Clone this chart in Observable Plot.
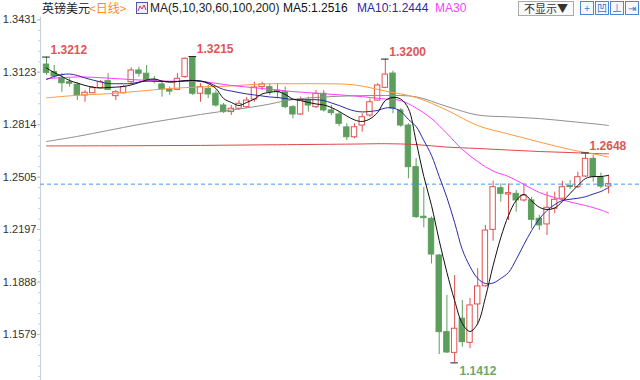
<!DOCTYPE html>
<html>
<head>
<meta charset="utf-8">
<script src="https://cdn.jsdelivr.net/npm/d3@7"></script>
<script src="https://cdn.jsdelivr.net/npm/@observablehq/plot@0.6"></script>
<style>
  body { margin: 0; background: #fff; font-family: "Liberation Sans", Arial, sans-serif; }
  #wrap { position: relative; width: 640px; height: 380px; overflow: hidden; background: #fff; }
  #hdr { position: absolute; left: 0; top: 0; width: 640px; height: 16px; font-size: 12px; line-height: 16px; white-space: nowrap; }
  #hdr span.t { position: absolute; top: 0; }
  .cjk { font-family: "Noto Sans CJK SC", "Liberation Sans", sans-serif; }
  .btn { position: absolute; top: 1px; width: 12px; height: 12px; border: 1px solid #4a86d6; color: #3a76c6; font-size: 10px; line-height: 12px; text-align: center; background: #f4f8ff; }
  .sel { position: absolute; left: 518px; top: 1px; width: 54px; height: 13px; border: 1px solid #aaa; font-size: 11px; line-height: 13px; color: #333; text-align: center; background: #fafafa; }
</style>
</head>
<body>
<div id="wrap">
  <div id="chart"></div>
  <div id="hdr"></div>
</div>
<script>
// ---- data (GBP/USD daily candles) ----
const open = [1.3168,1.3123,1.3088,1.3064,1.3049,1.2986,1.2999,1.3029,1.3070,1.2982,
  1.2999,1.3064,1.3133,1.3114,1.3077,1.3051,1.3021,1.3019,1.3094,1.3208,
  1.2996,1.3025,1.2996,1.2927,1.2888,1.2908,1.2917,1.2962,1.3035,1.3035,
  1.3015,1.3005,1.2917,1.2874,1.2956,1.2917,1.2996,1.2898,1.2874,1.2798,
  1.2740,1.2809,1.2868,1.2956,1.3031,1.3115,1.2898,1.2809,1.2564,1.2272,
  1.2260,1.2044,1.1593,1.1471,1.1672,1.1530,1.1756,1.1863,1.2195,1.2440,
  1.2403,1.2407,1.2368,1.2368,1.2260,1.2227,1.2319,1.2378,1.2453,1.2446,
  1.2509,1.2613,1.2505,1.2450];
const close = [1.3119,1.3098,1.3058,1.3055,1.2986,1.3002,1.3029,1.3064,1.3019,1.3005,
  1.3035,1.3133,1.3114,1.3078,1.3071,1.3021,1.3009,1.3084,1.3202,1.2996,
  1.3035,1.2992,1.2927,1.2888,1.2908,1.2937,1.2956,1.3033,1.3051,1.3005,
  1.3005,1.2917,1.2874,1.2961,1.2927,1.2996,1.2898,1.2882,1.2819,1.2740,
  1.2799,1.2858,1.2946,1.3045,1.3109,1.2909,1.2809,1.2564,1.2270,1.2264,
  1.2050,1.1593,1.1473,1.1613,1.1534,1.1750,1.1862,1.2191,1.2446,1.2407,
  1.2411,1.2368,1.2397,1.2254,1.2221,1.2325,1.2372,1.2446,1.2447,1.2505,
  1.2613,1.2505,1.2450,1.2464];
const high = [1.3212,1.3162,1.3115,1.3086,1.3062,1.3015,1.3039,1.3074,1.3114,1.3015,
  1.3045,1.3149,1.3152,1.3162,1.3098,1.3064,1.3035,1.3115,1.3207,1.3215,
  1.3055,1.3045,1.3015,1.2939,1.2927,1.2956,1.2974,1.3064,1.3064,1.3055,
  1.3055,1.3035,1.2927,1.2976,1.2976,1.3015,1.3015,1.2927,1.2888,1.2819,
  1.2819,1.2878,1.2966,1.3055,1.3200,1.3129,1.2909,1.2819,1.2615,1.2446,
  1.2270,1.2050,1.1809,1.1926,1.1779,1.1791,1.1966,1.2221,1.2481,1.2466,
  1.2466,1.2427,1.2466,1.2387,1.2280,1.2417,1.2417,1.2481,1.2486,1.2534,
  1.2648,1.2633,1.2529,1.2515];
const low = [1.3104,1.3086,1.3005,1.3035,1.2956,1.2946,1.2996,1.3025,1.3015,1.2956,
  1.2996,1.3055,1.3094,1.3064,1.3055,1.2976,1.2986,1.3015,1.3086,1.2986,
  1.2946,1.2968,1.2917,1.2880,1.2868,1.2898,1.2909,1.2946,1.3015,1.2986,
  1.2966,1.2908,1.2849,1.2868,1.2888,1.2908,1.2888,1.2868,1.2803,1.2721,
  1.2731,1.2770,1.2858,1.2952,1.3025,1.2878,1.2799,1.2496,1.2262,1.2207,
  1.1995,1.1461,1.1467,1.1412,1.1504,1.1495,1.1632,1.1858,1.2128,1.2358,
  1.2250,1.2299,1.2358,1.2201,1.2191,1.2162,1.2290,1.2368,1.2433,1.2437,
  1.2503,1.2476,1.2437,1.2407];

const ma5 = [1.3148,1.3121,1.3098,1.3074,1.3059,1.3045,1.3035,1.3030,1.3033,1.3035,
  1.3039,1.3048,1.3062,1.3077,1.3083,1.3071,1.3064,1.3068,1.3074,1.3074,
  1.3071,1.3056,1.3027,1.2968,1.2945,1.2927,1.2945,1.2965,1.2995,1.3004,
  1.3009,1.2992,1.2965,1.2956,1.2945,1.2936,1.2930,1.2915,1.2892,1.2865,
  1.2842,1.2833,1.2848,1.2886,1.2956,1.2974,1.2965,1.2909,1.2715,1.2509,
  1.2338,1.2132,1.1944,1.1779,1.1644,1.1597,1.1644,1.1797,1.1985,1.2150,
  1.2280,1.2368,1.2403,1.2365,1.2328,1.2315,1.2324,1.2362,1.2409,1.2456,
  1.2497,1.2509,1.2509,1.2516];
const ma10 = [1.3080,1.3098,1.3109,1.3112,1.3104,1.3089,1.3077,1.3066,1.3056,1.3055,
  1.3055,1.3056,1.3065,1.3070,1.3069,1.3068,1.3068,1.3068,1.3071,1.3074,
  1.3071,1.3062,1.3041,1.3021,1.3012,1.3003,1.2995,1.2989,1.2983,1.2977,
  1.2974,1.2968,1.2962,1.2961,1.2961,1.2961,1.2956,1.2942,1.2927,1.2909,
  1.2895,1.2889,1.2892,1.2898,1.2912,1.2912,1.2892,1.2845,1.2803,1.2721,
  1.2633,1.2509,1.2385,1.2238,1.2079,1.1979,1.1909,1.1879,1.1882,1.1909,
  1.1944,1.2021,1.2109,1.2191,1.2259,1.2309,1.2344,1.2368,1.2375,1.2381,
  1.2390,1.2406,1.2421,1.2444];

const ma30Idx = [0,4,8,12,16,20,24,28,32,36,40,44,46,48,50,52,54,56,58,60,62,64,66,68,70,72,73];
const ma30 = [1.3084,1.3095,1.3088,1.3077,1.3070,1.3068,1.3045,1.3027,1.3009,1.2996,1.2983,1.2965,1.2956,
  1.2912,1.2850,1.2762,1.2668,1.2597,1.2541,1.2509,1.2462,1.2415,1.2385,1.2359,1.2338,1.2312,1.2294];
const slowIdx = [0,4,8,12,16,20,24,28,32,36,40,44,48,52,56,60,64,68,72,73];
const ma60 = [1.2972,1.2987,1.2996,1.3011,1.3027,1.3036,1.3042,1.3054,1.3055,1.3055,
  1.3048,1.3012,1.2974,1.2899,1.2809,1.2759,1.2712,1.2668,1.2633,1.2623];
const ma100 = [1.2715,1.2745,1.2780,1.2815,1.2845,1.2874,1.2900,1.2927,1.2962,1.2977,
  1.2984,1.2986,1.2978,1.2921,1.2871,1.2860,1.2850,1.2833,1.2815,1.2809];
const ma200Idx = [0,10,20,30,40,44,48,52,56,60,64,68,72,73];
const ma200 = [1.2689,1.2690,1.2692,1.2696,1.2700,1.2702,1.2697,1.2682,1.2674,1.2665,1.2656,1.2650,1.2643,1.2643];

const yTicks = [1.3431,1.3123,1.2814,1.2505,1.2197,1.1888,1.1579];
const hiMarks = [0,19,44,70];   // candles whose high is labelled
const loMarks = [53];           // candle whose low is labelled

// ---- styles ----
const RED = "#e05050", GREEN = "#5c9e5c";
const half = 0.35;
const xDomain = [-0.78, 77.14];
const yDomain = [1.13083, 1.34449];

const n = open.length;
const candles = d3.range(n).map(i => ({i, o: open[i], h: high[i], l: low[i], c: close[i], up: close[i] >= open[i]}));
const pts = (idx, vals) => vals.map((v, k) => ({i: idx ? idx[k] : k, v}));

const step = (yTicks[0] - yTicks[yTicks.length - 1]) / ((yTicks.length - 1) * 5);
const minor = d3.range(-4, 32).map(k => yTicks[yTicks.length - 1] + k * step)
  .filter(v => v >= yDomain[0] && v <= yDomain[1]);

const chart = Plot.plot({
  width: 640, height: 380,
  marginTop: 17, marginBottom: 0, marginLeft: 40, marginRight: 0,
  x: {domain: xDomain, axis: null},
  y: {domain: yDomain, axis: null},
  style: {background: "white", fontFamily: "Liberation Sans, Arial, sans-serif", fontSize: "11px", color: "#333", overflow: "visible"},
  marks: [
    Plot.frame({anchor: "left", stroke: "#c8d0da"}),
    Plot.axisY(minor, {tickSize: 2, tickFormat: () => "", stroke: "#c8d0da"}),
    Plot.axisY(yTicks, {tickSize: 3, tickPadding: 1, tickFormat: d => d.toFixed(4), stroke: "#b8c2cc", fill: "#333", fontSize: 11}),
    // wicks
    Plot.ruleX(candles, {x: "i", y1: "l", y2: "h", stroke: d => d.up ? RED : GREEN, strokeWidth: 1}),
    // bodies
    Plot.rect(candles, {x1: d => d.i - half, x2: d => d.i + half, y1: "o", y2: "c",
      fill: d => d.up ? "white" : GREEN, stroke: d => d.up ? RED : GREEN, strokeWidth: 1}),
    // current price
    Plot.ruleY([close[n - 1]], {stroke: "#3d9bff", strokeWidth: 1, strokeDasharray: "4,3"}),
    // moving averages
    Plot.line(pts(ma200Idx, ma200), {x: "i", y: "v", stroke: "#e04848", strokeWidth: 1, curve: "catmull-rom"}),
    Plot.line(pts(slowIdx, ma100), {x: "i", y: "v", stroke: "#909090", strokeWidth: 1, curve: "catmull-rom"}),
    Plot.line(pts(slowIdx, ma60), {x: "i", y: "v", stroke: "#ff9a3c", strokeWidth: 1, curve: "catmull-rom"}),
    Plot.line(pts(ma30Idx, ma30), {x: "i", y: "v", stroke: "#ff3cff", strokeWidth: 1, curve: "catmull-rom"}),
    Plot.line(pts(null, ma10), {x: "i", y: "v", stroke: "#2a2aa6", strokeWidth: 1, curve: "catmull-rom"}),
    Plot.line(pts(null, ma5), {x: "i", y: "v", stroke: "#111", strokeWidth: 1, curve: "catmull-rom"}),
    // high / low markers
    Plot.ruleY(hiMarks, {y: i => high[i], x1: i => i - 0.5, x2: i => i + 0.5, stroke: "#222"}),
    Plot.ruleY(loMarks, {y: i => low[i], x1: i => i - 0.5, x2: i => i + 0.5, stroke: "#222"}),
    Plot.text(hiMarks, {x: i => i, y: i => high[i], text: i => high[i].toFixed(4), dx: 4, dy: -7,
      textAnchor: "start", fill: "#e05555", fontWeight: "bold", fontSize: 12}),
    Plot.text(loMarks, {x: i => i, y: i => low[i], text: i => low[i].toFixed(4), dx: 5, dy: 8,
      textAnchor: "start", fill: "#6aaa6a", fontWeight: "bold", fontSize: 12})
  ]
});
document.getElementById("chart").appendChild(chart);

// ---- header ----
const hdr = document.getElementById("hdr");
const items = [
  {x: 42, text: "英镑美元", color: "#222", cls: "cjk"},
  {x: 89, text: "<日线>", color: "#ff8a2a", cls: "cjk"},
  {x: 150, text: "MA(5,10,30,60,100,200)", color: "#222"},
  {x: 283, text: "MA5:" + ma5[n - 1].toFixed(4), color: "#111"},
  {x: 357, text: "MA10:" + ma10[n - 1].toFixed(4), color: "#2a2aa6"},
  {x: 435, text: "MA30", color: "#ff3cff"}
];
for (const it of items) {
  const s = document.createElement("span");
  s.className = "t " + (it.cls || "");
  s.style.left = it.x + "px";
  s.style.color = it.color;
  s.textContent = it.text;
  hdr.appendChild(s);
}
// small chart icon
const ic = document.createElementNS("http://www.w3.org/2000/svg", "svg");
ic.setAttribute("width", 12); ic.setAttribute("height", 12);
ic.style.position = "absolute"; ic.style.left = "136px"; ic.style.top = "2px";
ic.innerHTML = '<rect x="0.5" y="0.5" width="11" height="11" fill="#eef" stroke="#5555aa"/><polyline points="2,9 4,4 6,7 8,3 10,8" fill="none" stroke="#cc3366"/>';
hdr.appendChild(ic);
const sel = document.createElement("div");
sel.className = "sel cjk"; sel.textContent = "不显示▼";
hdr.appendChild(sel);
["+", "凹", "⊥", "⇥"].forEach((g, k) => {
  const b = document.createElement("div");
  b.className = "btn cjk"; b.style.left = (580 + k * 15) + "px"; b.textContent = g;
  hdr.appendChild(b);
});
</script>
</body>
</html>
